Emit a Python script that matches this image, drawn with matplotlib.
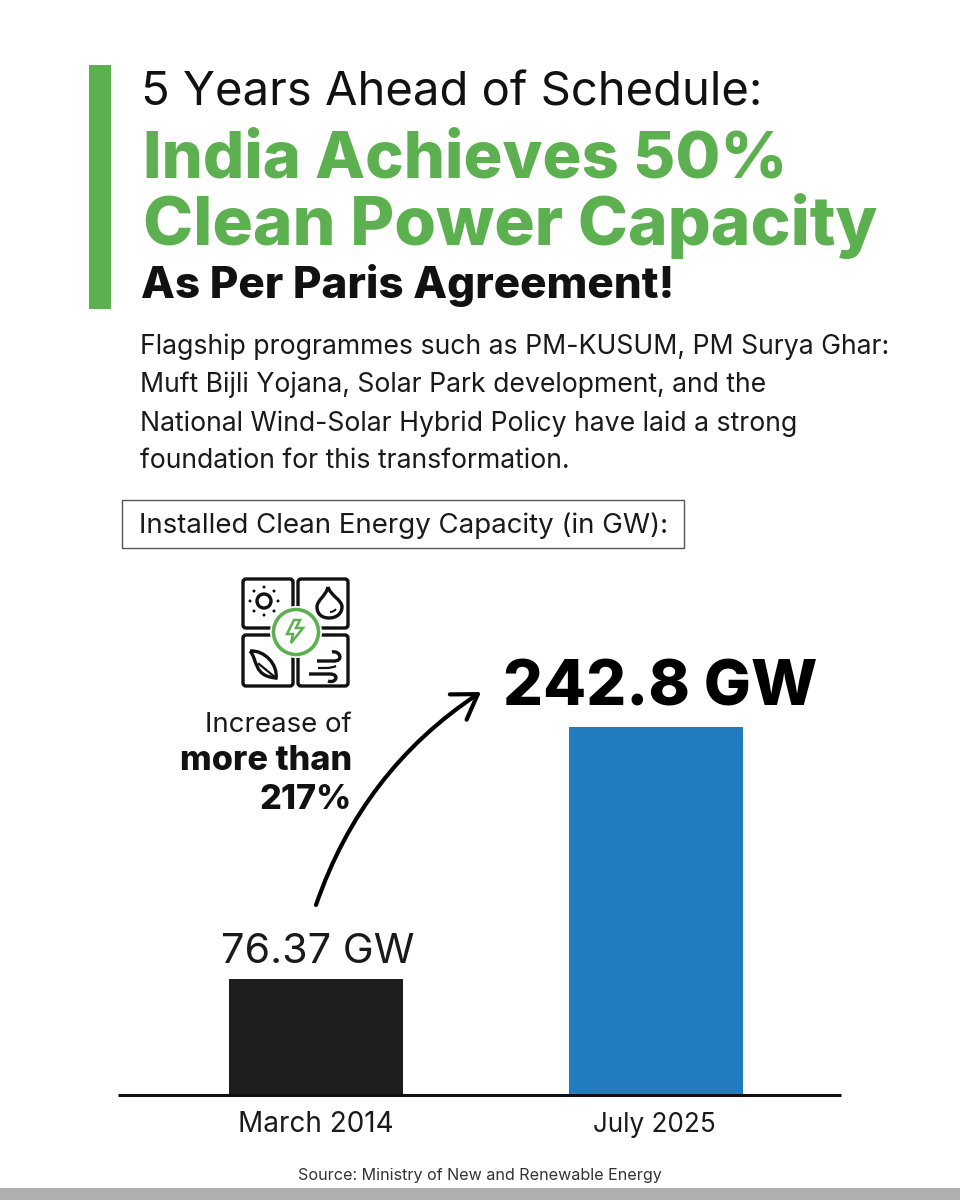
import matplotlib
matplotlib.use('Agg')
import matplotlib.pyplot as plt
from matplotlib.patches import FancyBboxPatch, Circle, Rectangle, FancyArrowPatch, Polygon, PathPatch
from matplotlib.path import Path

# data
periods = ['March 2014', 'July 2025']
capacity_gw = [76.37, 242.8]
capacity_labels = ['76.37 GW', '242.8 GW']
bar_colors = ['#1e1e1e', '#227bbf']

paragraph = [
    'Flagship programmes such as PM-KUSUM, PM Surya Ghar:',
    'Muft Bijli Yojana, Solar Park development, and the',
    'National Wind-Solar Hybrid Policy have laid a strong',
    'foundation for this transformation.',
]

GREEN = '#5cb04f'
INK = '#111111'
plt.rcParams['font.family'] = ['Inter', 'DejaVu Sans']

fig = plt.figure(figsize=(9.6, 12), dpi=100, facecolor='white')

# overlay in pixel coordinates for everything around the chart
ov = fig.add_axes([0, 0, 1, 1], zorder=3)
ov.set_xlim(0, 960)
ov.set_ylim(1200, 0)
ov.axis('off')
ov.patch.set_alpha(0)


def fit_text(x0, x1, y, s, weight='normal', color='black', size=20):
    # scale the font so the string spans x0..x1 in pixels
    t = ov.text(x0, y, s, fontsize=size, fontweight=weight, color=color, va='baseline', ha='left')
    w = t.get_window_extent(fig.canvas.get_renderer()).width
    t.set_fontsize(size * (x1 - x0) / w)
    return t


# header
ov.add_patch(Rectangle((89, 65), 22, 244, color=GREEN, lw=0))
fit_text(141, 762, 105, '5 Years Ahead of Schedule:', color=INK)
fit_text(143, 787, 177, 'India Achieves 50%', weight=800, color=GREEN)
fit_text(143, 878, 245, 'Clean Power Capacity', weight=800, color=GREEN)
fit_text(141, 675, 298, 'As Per Paris Agreement!', weight=800, color=INK)

# paragraph lines share the size of the first one
first = fit_text(140, 890, 354, paragraph[0], color='#1a1a1a')
for line, y in zip(paragraph[1:], [392, 431, 468]):
    ov.text(140, y, line, fontsize=first.get_fontsize(), color='#1a1a1a', va='baseline')

ov.add_patch(Rectangle((121.5, 499.5), 562, 48, fc='white', ec='#555555', lw=1))
fit_text(139, 668, 533, 'Installed Clean Energy Capacity (in GW):', color='#1a1a1a')

# bar chart
ax = fig.add_axes([118 / 960, (1200 - 1095) / 1200, (841 - 118) / 960, 500 / 1200], zorder=1)
x_pos = [0, 1]
ax.bar(x_pos, capacity_gw, width=174 / 340, color=bar_colors, linewidth=0)
ax.set_xlim(-(316 - 118) / 340, (841 - 316) / 340)
ax.set_ylim(0, 500 * 242.8 / 368)
ax.set_xticks(x_pos)
ax.set_xticklabels([])
ax.set_yticks([])
ax.tick_params(length=0)
for side in ['top', 'left', 'right']:
    ax.spines[side].set_visible(False)
ax.spines['bottom'].set_linewidth(2.2)
ax.spines['bottom'].set_color(INK)
ax.spines['bottom'].set_capstyle('butt')
ax.patch.set_alpha(0)

fit_text(238, 394, 1132, periods[0], color='#1a1a1a')
fit_text(593, 716, 1132, periods[1], color='#1a1a1a')
fit_text(221, 414, 963, capacity_labels[0], color='#1a1a1a')
fit_text(503, 818, 705, capacity_labels[1], weight=800, color='black')

# callout text and arrow
fit_text(205, 352, 732, 'Increase of', color='#1a1a1a')
more = fit_text(180, 352, 770, 'more than', weight=800, color=INK)
ov.text(352, 809, '217%', fontsize=more.get_fontsize(), fontweight=800, color=INK, ha='right', va='baseline')
ov.add_patch(FancyArrowPatch((316, 905), (481, 692), connectionstyle='arc3,rad=-0.17',
                             arrowstyle='->,head_length=6.5,head_width=4.2', lw=3, color='black',
                             shrinkA=0, shrinkB=0, mutation_scale=2.6))

# energy icon
icon_lw = 2.4
for x0, y0, x1, y1 in [(243, 579, 293, 628), (298, 579, 348, 628), (243, 635, 293, 686), (298, 635, 348, 686)]:
    ov.add_patch(FancyBboxPatch((x0, y0), x1 - x0, y1 - y0, boxstyle='round,pad=0,rounding_size=3',
                                fc='none', ec=INK, lw=icon_lw))
ov.add_patch(Circle((296, 632), 26, fc='white', ec='none', zorder=3))
ov.add_patch(Circle((296, 632), 22.5, fc='white', ec=GREEN, lw=2.6, zorder=4))
ov.add_patch(Polygon([(294, 620), (287, 634), (293, 634), (291, 643), (303, 628), (296, 628), (300, 620)],
                     closed=True, fc='white', ec=GREEN, lw=1.8, zorder=5))
# sun
ov.add_patch(Circle((264, 601), 7, fc='none', ec=INK, lw=icon_lw))
for dx, dy in [(0, -14), (0, 14), (-14, 0), (14, 0), (-10, -10), (10, -10), (-10, 10), (10, 10)]:
    ov.add_patch(Circle((264 + dx, 601 + dy), 1.5, fc=INK, ec='none'))
# drop
C4 = Path.CURVE4
drop = Path([(328, 587), (326, 596), (317, 600), (317, 607), (317, 614), (322, 618), (329, 618),
             (337, 618), (342, 613), (342, 607), (342, 600), (331, 596), (328, 587)],
            [Path.MOVETO, C4, C4, C4, C4, C4, C4, C4, C4, C4, C4, C4, C4])
ov.add_patch(PathPatch(drop, fc='none', ec=INK, lw=icon_lw))
ov.add_patch(PathPatch(Path([(330, 612), (334, 612), (336, 609)], [Path.MOVETO, Path.CURVE3, Path.CURVE3]),
                       fc='none', ec=INK, lw=1.4))
# leaf
leaf = Path([(250, 651), (258, 660), (253, 676), (276, 678), (278, 665), (265, 650), (250, 651)],
            [Path.MOVETO, C4, C4, C4, C4, C4, C4])
ov.add_patch(PathPatch(leaf, fc='none', ec=INK, lw=icon_lw))
ov.plot([259, 276], [664, 678], color=INK, lw=1.6)
# wind
wind_top = Path([(317, 661), (332, 661), (345, 662), (340, 650), (332, 652)], [Path.MOVETO, C4, C4, C4, C4][:1] + [Path.LINETO] + [C4, C4, C4][:3])
ov.add_patch(PathPatch(wind_top, fc='none', ec=INK, lw=icon_lw))
wind_low = Path([(309, 674), (330, 674), (340, 674), (336, 684), (328, 681)], [Path.MOVETO, Path.LINETO, C4, C4, C4])
ov.add_patch(PathPatch(wind_low, fc='none', ec=INK, lw=icon_lw))
wind_tail = Path([(318, 668), (326, 668), (332, 668), (336, 666)], [Path.MOVETO, Path.LINETO, Path.CURVE3, Path.CURVE3])
ov.add_patch(PathPatch(wind_tail, fc='none', ec=INK, lw=1.6))

# footer
fit_text(298, 661, 1180, 'Source: Ministry of New and Renewable Energy', color='#333333')
ov.add_patch(Rectangle((0, 1188), 960, 12, color='#b0b0b0', lw=0))

fig.savefig('out.png', dpi=100, facecolor='white')
